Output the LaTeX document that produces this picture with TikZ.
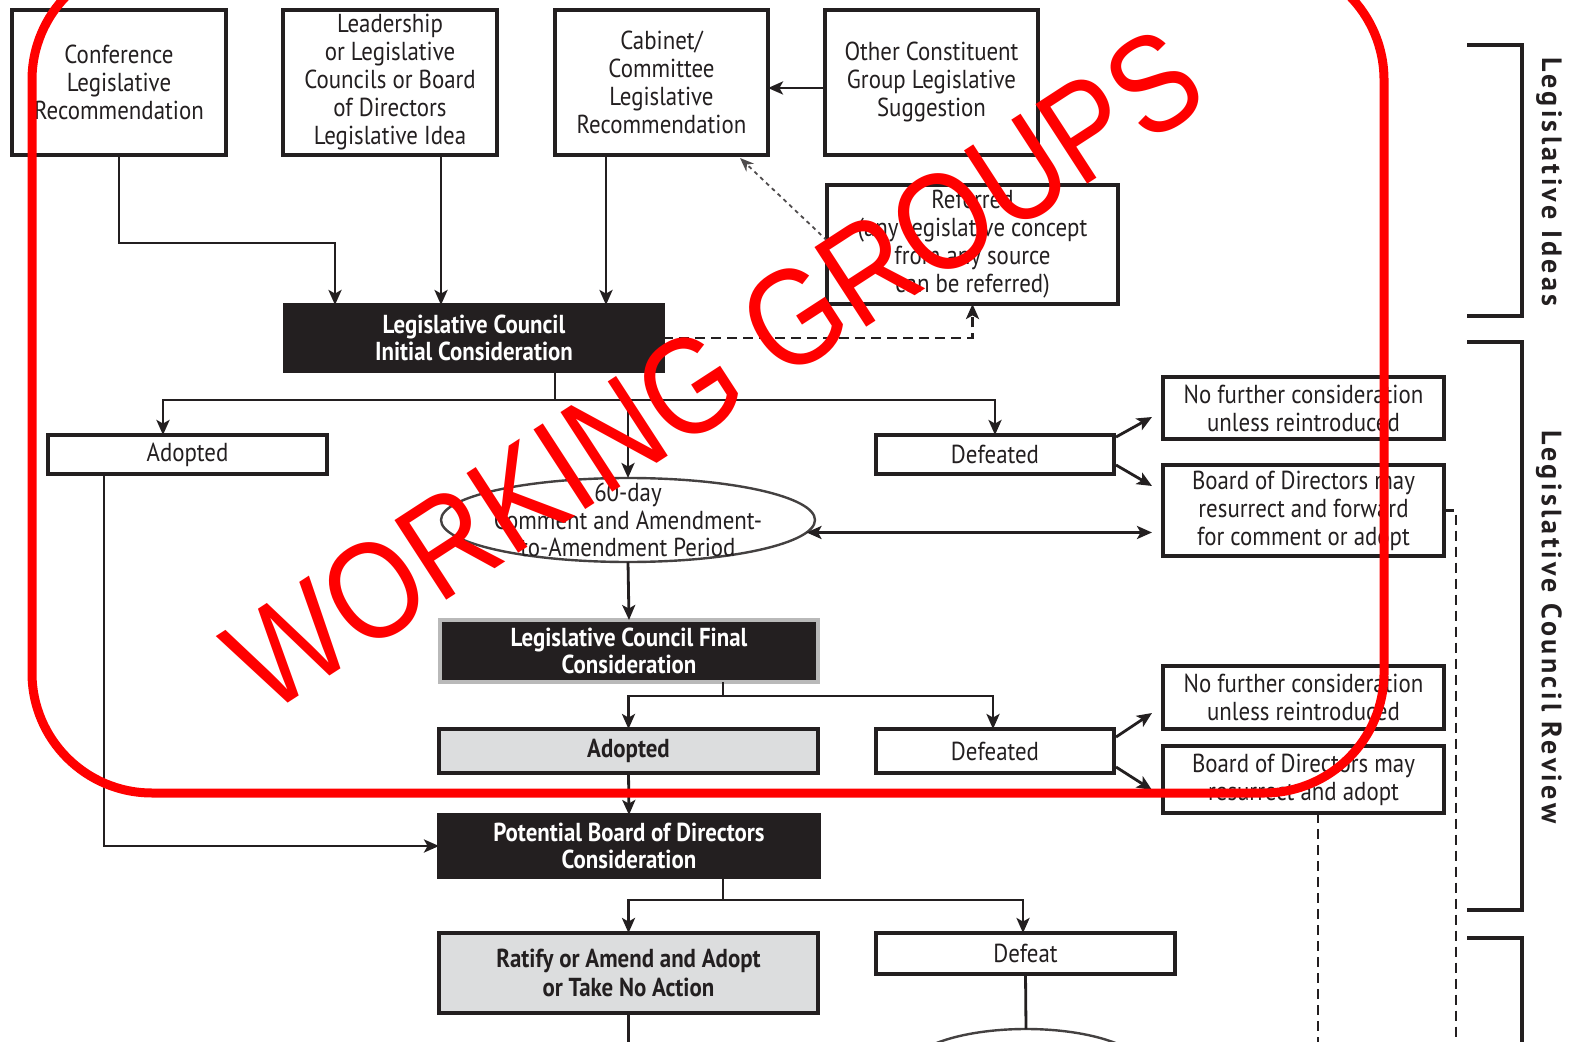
\documentclass[tikz,border=0pt]{standalone}
\usepackage{fontspec}
\setmainfont{PT Sans}[FakeStretch=0.88]
\newfontfamily\labfont{PT Sans}[LetterSpace=12]
\newfontfamily\wmfont{Liberation Sans}[FakeStretch=0.86]
\usetikzlibrary{arrows.meta,shapes.geometric,calc}
\definecolor{ink}{HTML}{231F20}
\definecolor{lgray}{HTML}{DCDDDE}
\definecolor{wm}{HTML}{FF0000}
\begin{document}
\begin{tikzpicture}[x=0.5pt,y=-0.5pt,
  box/.style={draw=ink,line width=1.6pt,fill=white,inner sep=0pt,outer sep=0pt,align=center,text=ink,font=\fontsize{13}{14}\selectfont},
  blk/.style={box,fill=ink,text=white,font=\bfseries\fontsize{13}{13.5}\selectfont},
  gbox/.style={box,fill=lgray,font=\bfseries\fontsize{13}{14.5}\selectfont},
  ovl/.style={ellipse,draw=ink!85,line width=1.2pt,fill=white,inner sep=0pt,outer sep=0pt},
  conn/.style={draw=ink,line width=1.4pt},
  tip/.tip={Stealth[length=7.5pt,width=6.5pt,inset=1.8pt]},
  arr/.style={conn,-tip},
  darr/.style={conn,tip-tip},
  dsh/.style={conn,dash pattern=on 5pt off 3pt},
  dsharr/.style={dsh,-tip},
  dotarr/.style={draw=ink!80,line width=0.9pt,dash pattern=on 2pt off 2pt,-{Stealth[length=7pt,width=5.5pt]}},
  brk/.style={draw=ink,line width=1.6pt},
  lab/.style={rotate=-90,text=ink,font=\labfont\bfseries\fontsize{14}{14}\selectfont}
]
\useasboundingbox (0,0) rectangle (1572,1042);
\clip (0,0) rectangle (1572,1042);
\fill[white] (0,0) rectangle (1572,1042);

% top row
\node[box,minimum width=107pt,minimum height=72.5pt] (conf) at (119,82.5) {Conference\\Legislative\\Recommendation};
\node[box,minimum width=107pt,minimum height=72.5pt] (lead) at (390,82.5) {Leadership\\or Legislative\\Councils or Board\\of Directors\\Legislative Idea};
\node[box,minimum width=106.5pt,minimum height=72.5pt] (cab) at (661.5,82.5) {Cabinet/\\Committee\\Legislative\\Recommendation};
\node[box,minimum width=106.5pt,minimum height=72.5pt] (other) at (931.5,82.5) {Other Constituent\\Group Legislative\\Suggestion};
\node[box,minimum width=145.5pt,minimum height=59.5pt] (ref) at (972.5,244.5) {Referred\\(any legislative concept\\from any source\\can be referred)};

\node[blk,minimum width=189pt,minimum height=33pt] (lcic) at (474,338) {Legislative Council\\Initial Consideration};

\node[box,minimum width=139.5pt,minimum height=19.5pt] (ad1) at (187.5,454.5) {Adopted};
\node[box,minimum width=119pt,minimum height=19.5pt] (df1) at (995,454.5) {Defeated};
\node[ovl,minimum width=187pt,minimum height=42pt] (ell) at (628,520) {};
\node[align=center,text=ink,font=\fontsize{13}{13.75}\selectfont] (elltxt) at (ell.center) {60-day\\Comment and Amendment-\\to-Amendment Period};

\node[box,minimum width=140.5pt,minimum height=31pt] (nf1) at (1303.5,408) {No further consideration\\unless reintroduced};
\node[box,minimum width=140.5pt,minimum height=45.5pt] (bod1) at (1303.5,510.5) {Board of Directors may\\resurrect and forward\\for comment or adopt};

\node[blk,draw=gray!55,minimum width=189pt,minimum height=31pt] (lcfc) at (629,651) {Legislative Council Final\\Consideration};
\node[gbox,minimum width=189.5pt,minimum height=22pt] (ad2) at (628.5,751) {Adopted};
\node[box,minimum width=119pt,minimum height=22pt] (df2) at (995,751) {Defeated};
\node[box,minimum width=140.5pt,minimum height=31.5pt] (nf2) at (1303.5,697.5) {No further consideration\\unless reintroduced};
\node[box,minimum width=140.5pt,minimum height=33.5pt] (bod2) at (1303.5,779.5) {Board of Directors may\\resurrect and adopt};

\node[blk,minimum width=190pt,minimum height=31pt] (pbod) at (629,846) {Potential Board of Directors\\Consideration};
\node[gbox,minimum width=189.5pt,minimum height=40pt] (rat) at (628.5,973) {Ratify or Amend and Adopt\\or Take No Action};
\node[box,minimum width=149.5pt,minimum height=20.5pt] (dft) at (1025.5,953.5) {Defeat};
\node[ovl,minimum width=120pt,minimum height=42pt] (ell2) at (1026,1071) {};

% connectors into initial consideration
\coordinate (j1) at (335,243);
\draw[arr] (conf.south) |- (j1) -- (j1 |- lcic.north);
\coordinate (l1) at ($(lead.south)+(51,0)$);
\draw[arr] (l1) -- (l1 |- lcic.north);
\coordinate (c1) at ($(cab.south)+(-55.5,0)$);
\draw[arr] (c1) -- (c1 |- lcic.north);
\draw[arr] ($(other.west)+(0,5.5)$) -- ($(cab.east)+(0,5.5)$);
\draw[dotarr] ($(ref.west)+(0,-4)$) -- ($(cab.south east)+(-28,3)$);
\draw[dsharr] (lcic.east) -| (ref.south);

% initial consideration split
\coordinate (s1) at ($(lcic.south)+(81,29)$);
\draw[conn] ($(lcic.south)+(81,0)$) -- (s1);
\draw[arr] (s1) -| ($(ad1.north)+(-24.5,0)$);
\draw[arr] (s1) -| (df1.north);
\draw[arr] (s1 -| ell.north) -- (ell.north);

\draw[arr] ($(df1.north east)+(2,2)$) -- ($(nf1.west)+(-11,9)$);
\draw[arr] ($(df1.south east)+(2,-9)$) -- ($(bod1.north west)+(-11,21)$);
\draw[darr] (ell.-4) -- ($(ell.-4 -| bod1.west)+(-11,0)$);

\coordinate (e1) at (1456,1050);
\draw[dsh] (bod1.east) -| (e1);
\draw[dsh] ($(bod2.south)+(14.5,0)$) -- ++(0,240);

% final consideration
\draw[arr] (ell.south) -- (lcfc.north);
\coordinate (s2) at ($(lcfc.south)+(94,14)$);
\draw[conn] ($(lcfc.south)+(94,0)$) -- (s2);
\draw[arr] (s2) -| (ad2.north);
\draw[arr] (s2) -| ($(df2.north)+(-2,0)$);
\draw[arr] ($(df2.north east)+(2,8)$) -- ($(nf2.south west)+(-11,-16)$);
\draw[arr] ($(df2.south east)+(2,-6)$) -- ($(bod2.north west)+(-11,44)$);

% board consideration
\draw[arr] (ad2.south) -- (pbod.north);
\draw[arr] ($(ad1.south)+(-83.5,0)$) |- (pbod.west);
\coordinate (s3) at ($(pbod.south)+(94,23)$);
\draw[conn] ($(pbod.south)+(94,0)$) -- (s3);
\draw[arr] (s3) -| (rat.north);
\draw[arr] (s3) -| ($(dft.north)+(-2.5,0)$);
\draw[conn] (dft.south) -- (ell2.north);
\draw[conn] (rat.south) -- ++(0,40);

% brackets
\draw[brk] (1467,45) -- (1522,45) -- (1522,316) -- (1467,316);
\draw[brk] (1467,342) -- (1522,342) -- (1522,910) -- (1467,910);
\draw[brk] (1467,938) -- (1522,938) -- (1522,1050);
\node[lab] (lab1) at (1549,182) {Legislative Ideas};
\node[lab] (lab2) at (1549,627) {Legislative Council Review};

% watermark
\draw[wm,line width=4.5pt,rounded corners=60pt] (32,-40) rectangle (1384,793);
\node[rotate=33,text=wm,inner sep=0pt,font=\wmfont\fontsize{69}{69}\selectfont] (wmk) at (714,370) {WORKING GROUPS};
\end{tikzpicture}
\end{document}
